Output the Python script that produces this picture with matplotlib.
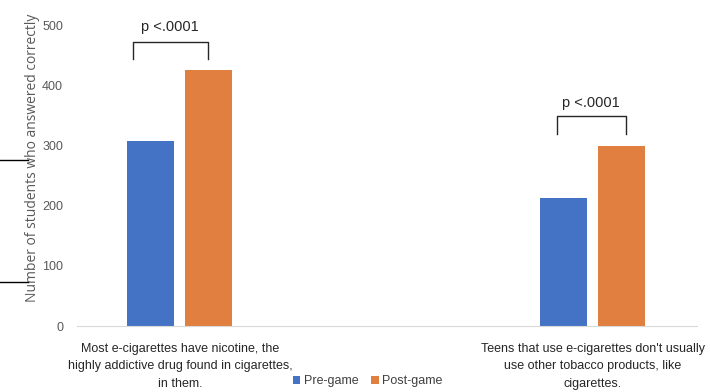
import numpy as np
import matplotlib.pyplot as plt
from matplotlib.lines import Line2D

plt.rcParams['font.family'] = ['Liberation Sans', 'DejaVu Sans']

# data
categories = ["Most e-cigarettes have nicotine, the\nhighly addictive drug found in cigarettes,\nin them.",
              "Teens that use e-cigarettes don't usually\nuse other tobacco products, like\ncigarettes."]
pre_game = [307, 213]
post_game = [425, 300]
p_labels = ["p <.0001", "p <.0001"]
yticks = [0, 100, 200, 300, 400, 500]

blue = '#4472C4'
orange = '#E07F3F'

fig = plt.figure(figsize=(7.1, 3.92), dpi=100)
ax = fig.add_axes([0.1085, 0.168, 0.873, 0.768])

x = np.arange(len(categories))
w = 0.114
ax.bar(x - 0.070, pre_game, w, color=blue, label='Pre-game')
ax.bar(x + 0.070, post_game, w, color=orange, label='Post-game')

ax.set_xlim(-0.249, 1.252)
ax.set_ylim(0, 500)
ax.set_yticks(yticks)
ax.tick_params(axis='y', length=0, labelsize=9, colors='#595959', pad=10)
ax.tick_params(axis='x', length=0, labelsize=9, pad=12)
ax.set_xticks(x)
ax.set_xticklabels(categories, color='#262626', linespacing=1.6)
for s in ['top', 'right', 'left']:
    ax.spines[s].set_visible(False)
ax.spines['bottom'].set_color('#D9D9D9')

ax.set_ylabel('Number of students who answered correctly', fontsize=10,
              color='#595959', family='Open Sans')
ax.yaxis.set_label_coords(-0.060, 0.558)

# significance brackets
br_left = [-0.114, -0.087]
br_right = [0.068, 0.080]
br_top = [472, 349]
br_bot = [443, 319]
txt_y = [497, 370]
for i in range(len(categories)):
    xl, xr = x[i] + br_left[i], x[i] + br_right[i]
    ax.plot([xl, xl, xr, xr], [br_bot[i], br_top[i], br_top[i], br_bot[i]],
            color='#262626', lw=1, clip_on=False)
    ax.text((xl + xr) / 2, txt_y[i], p_labels[i], ha='center', va='center',
            fontsize=10.5, color='#262626', clip_on=False)

ax.legend(loc='center', bbox_to_anchor=(0.469, -0.183), ncol=2, frameon=False,
          fontsize=9, handlelength=0.6, handleheight=0.6, handletextpad=0.3,
          columnspacing=1.0, labelcolor='#404040')

# stray marks at the left edge
fig.add_artist(Line2D([0, 0.04], [1 - 160 / 392] * 2, color='black', lw=1))
fig.add_artist(Line2D([0, 0.04], [1 - 282 / 392] * 2, color='black', lw=1))

fig.savefig('out.png', dpi=100)
